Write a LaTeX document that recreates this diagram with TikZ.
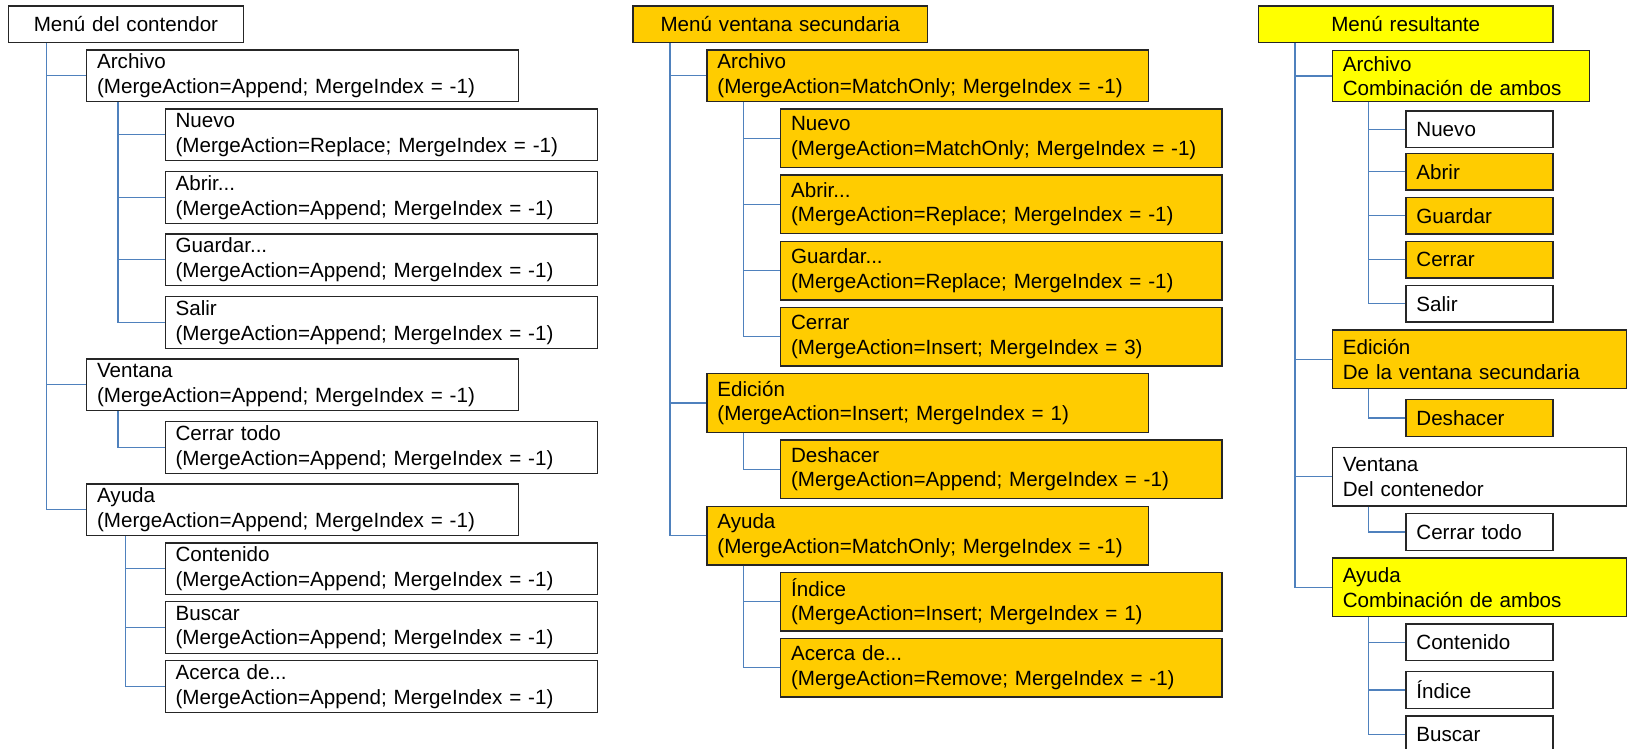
\documentclass[tikz,border=0pt]{standalone}
\usepackage{fontspec}
\setmainfont{Liberation Sans}
\definecolor{naranja}{HTML}{FFCC00}
\definecolor{amarillo}{HTML}{FFFF00}
\definecolor{azul}{RGB}{79,129,189}
\definecolor{borde}{HTML}{262626}
\tikzset{
  caja/.style={draw=borde, line width=1.2pt, rectangle, anchor=north west,
    inner xsep=10.5pt, inner ysep=0pt, align=left,
    font=\fontsize{20.6}{24.8}\selectfont},
  raiz/.style={caja, align=center, minimum height=36.7pt},
  rama/.style={draw=azul, line width=1.4pt},
  col1/.style={text width=411pt, minimum height=51.7pt},
  col2/.style={text width=420.4pt, minimum height=58.7pt},
  ancha3/.style={text width=273.3pt, minimum height=58.7pt},
  chica3/.style={text width=126pt, minimum height=36.7pt},
}
\begin{document}
\begin{tikzpicture}[x=1pt, y=-1pt]
            \useasboundingbox (0,0) rectangle (1629,748);

            % Menu del contenedor
            \begin{scope}[shift={(7.5,0)}]
                \node[raiz, text width=214.7pt] (raiz1) at (0,5.3) {Menú del contendor};
                \node[caja, col1] (arch1)    at (78.5,49.3) {Archivo\\(MergeAction=Append; MergeIndex = -1)};
                \node[caja, col1] (nuevo1)   at (157,108.3) {Nuevo\\(MergeAction=Replace; MergeIndex = -1)};
                \node[caja, col1] (abrir1)   at (157,171)   {Abrir...\\(MergeAction=Append; MergeIndex = -1)};
                \node[caja, col1] (guardar1) at (157,233.3) {Guardar...\\(MergeAction=Append; MergeIndex = -1)};
                \node[caja, col1] (salir1)   at (157,296)   {Salir\\(MergeAction=Append; MergeIndex = -1)};
                \node[caja, col1] (vent1)    at (78.5,358.3) {Ventana\\(MergeAction=Append; MergeIndex = -1)};
                \node[caja, col1] (cerrt1)   at (157,421)   {Cerrar todo\\(MergeAction=Append; MergeIndex = -1)};
                \node[caja, col1] (ayuda1)   at (78.5,483.3) {Ayuda\\(MergeAction=Append; MergeIndex = -1)};
                \node[caja, col1] (cont1)    at (157,542.3) {Contenido\\(MergeAction=Append; MergeIndex = -1)};
                \node[caja, col1] (buscar1)  at (157,601)   {Buscar\\(MergeAction=Append; MergeIndex = -1)};
                \node[caja, col1] (acerca1)  at (157,660)   {Acerca de...\\(MergeAction=Append; MergeIndex = -1)};
                \draw[rama] ([xshift=39pt]raiz1.south west) |- (arch1.west);
                \draw[rama] ([xshift=39pt]raiz1.south west) |- (vent1.west);
                \draw[rama] ([xshift=39pt]raiz1.south west) |- (ayuda1.west);
                \draw[rama] ([xshift=31.9pt]arch1.south west) |- (nuevo1.west);
                \draw[rama] ([xshift=31.9pt]arch1.south west) |- (abrir1.west);
                \draw[rama] ([xshift=31.9pt]arch1.south west) |- (guardar1.west);
                \draw[rama] ([xshift=31.9pt]arch1.south west) |- (salir1.west);
                \draw[rama] ([xshift=31.9pt]vent1.south west) |- (cerrt1.west);
                \draw[rama] ([xshift=39.5pt]ayuda1.south west) |- (cont1.west);
                \draw[rama] ([xshift=39.5pt]ayuda1.south west) |- (buscar1.west);
                \draw[rama] ([xshift=39.5pt]ayuda1.south west) |- (acerca1.west);
            \end{scope}

            % Menu de la ventana secundaria
            \begin{scope}[shift={(632.3,0)}]
                \node[raiz, fill=naranja, text width=273.7pt] (raiz2) at (0,5.3) {Menú ventana secundaria};
                \node[caja, col2, fill=naranja, minimum height=51.7pt] (arch2) at (74,49.3) {Archivo\\(MergeAction=MatchOnly; MergeIndex = -1)};
                \node[caja, col2, fill=naranja] (nuevo2)   at (147.7,108.3) {Nuevo\\(MergeAction=MatchOnly; MergeIndex = -1)};
                \node[caja, col2, fill=naranja] (abrir2)   at (147.7,174.3) {Abrir...\\(MergeAction=Replace; MergeIndex = -1)};
                \node[caja, col2, fill=naranja] (guardar2) at (147.7,240.7) {Guardar...\\(MergeAction=Replace; MergeIndex = -1)};
                \node[caja, col2, fill=naranja] (cerrar2)  at (147.7,306.7) {Cerrar\\(MergeAction=Insert; MergeIndex = 3)};
                \node[caja, col2, fill=naranja] (edic2)    at (74,373)      {Edición\\(MergeAction=Insert; MergeIndex = 1)};
                \node[caja, col2, fill=naranja] (desh2)    at (147.7,439.3) {Deshacer\\(MergeAction=Append; MergeIndex = -1)};
                \node[caja, col2, fill=naranja] (ayuda2)   at (74,505.7)    {Ayuda\\(MergeAction=MatchOnly; MergeIndex = -1)};
                \node[caja, col2, fill=naranja] (indice2)  at (147.7,571.7) {Índice\\(MergeAction=Insert; MergeIndex = 1)};
                \node[caja, col2, fill=naranja] (acerca2)  at (147.7,637.7) {Acerca de...\\(MergeAction=Remove; MergeIndex = -1)};
                \draw[rama] ([xshift=37.7pt]raiz2.south west) |- (arch2.west);
                \draw[rama] ([xshift=37.7pt]raiz2.south west) |- (edic2.west);
                \draw[rama] ([xshift=37.7pt]raiz2.south west) |- (ayuda2.west);
                \draw[rama] ([xshift=37pt]arch2.south west) |- (nuevo2.west);
                \draw[rama] ([xshift=37pt]arch2.south west) |- (abrir2.west);
                \draw[rama] ([xshift=37pt]arch2.south west) |- (guardar2.west);
                \draw[rama] ([xshift=37pt]arch2.south west) |- (cerrar2.west);
                \draw[rama] ([xshift=37pt]edic2.south west) |- (desh2.west);
                \draw[rama] ([xshift=37pt]ayuda2.south west) |- (indice2.west);
                \draw[rama] ([xshift=37pt]ayuda2.south west) |- (acerca2.west);
            \end{scope}

            % Menu resultante
            \begin{scope}[shift={(1258,0)}]
                \node[raiz, fill=amarillo, text width=273.3pt] (raiz3) at (0,5.3) {Menú resultante};
                \node[caja, fill=amarillo, text width=236.3pt, minimum height=51pt] (arch3) at (73.7,50) {Archivo\\Combinación de ambos};
                \node[caja, chica3]               (nuevo3)   at (147.3,110.3) {Nuevo};
                \node[caja, chica3, fill=naranja] (abrir3)   at (147.3,152.7) {Abrir};
                \node[caja, chica3, fill=naranja] (guardar3) at (147.3,196.7) {Guardar};
                \node[caja, chica3, fill=naranja] (cerrar3)  at (147.3,240.7) {Cerrar};
                \node[caja, chica3]               (salir3)   at (147.3,284.7) {Salir};
                \node[caja, ancha3, fill=naranja] (edic3)    at (73.7,329.3)  {Edición\\De la ventana secundaria};
                \node[caja, chica3, fill=naranja] (desh3)    at (147.3,399)   {Deshacer};
                \node[caja, ancha3]               (vent3)    at (73.7,446.7)  {Ventana\\Del contenedor};
                \node[caja, chica3]               (cerrt3)   at (147.3,513)   {Cerrar todo};
                \node[caja, ancha3, fill=amarillo] (ayuda3)  at (73.7,557.3)  {Ayuda\\Combinación de ambos};
                \node[caja, chica3]               (cont3)    at (147.3,623.3) {Contenido};
                \node[caja, chica3]               (indice3)  at (147.3,671)   {Índice};
                \node[caja, chica3]               (buscar3)  at (147.3,715.3) {Buscar};
                \draw[rama] ([xshift=37pt]raiz3.south west) |- (arch3.west);
                \draw[rama] ([xshift=37pt]raiz3.south west) |- (edic3.west);
                \draw[rama] ([xshift=37pt]raiz3.south west) |- (vent3.west);
                \draw[rama] ([xshift=37pt]raiz3.south west) |- (ayuda3.west);
                \draw[rama] ([xshift=36.6pt]arch3.south west) |- (nuevo3.west);
                \draw[rama] ([xshift=36.6pt]arch3.south west) |- (abrir3.west);
                \draw[rama] ([xshift=36.6pt]arch3.south west) |- (guardar3.west);
                \draw[rama] ([xshift=36.6pt]arch3.south west) |- (cerrar3.west);
                \draw[rama] ([xshift=36.6pt]arch3.south west) |- (salir3.west);
                \draw[rama] ([xshift=36.6pt]edic3.south west) |- (desh3.west);
                \draw[rama] ([xshift=36.6pt]vent3.south west) |- (cerrt3.west);
                \draw[rama] ([xshift=36.6pt]ayuda3.south west) |- (cont3.west);
                \draw[rama] ([xshift=36.6pt]ayuda3.south west) |- (indice3.west);
                \draw[rama] ([xshift=36.6pt]ayuda3.south west) |- (buscar3.west);
            \end{scope}
        \end{tikzpicture}
\end{document}
